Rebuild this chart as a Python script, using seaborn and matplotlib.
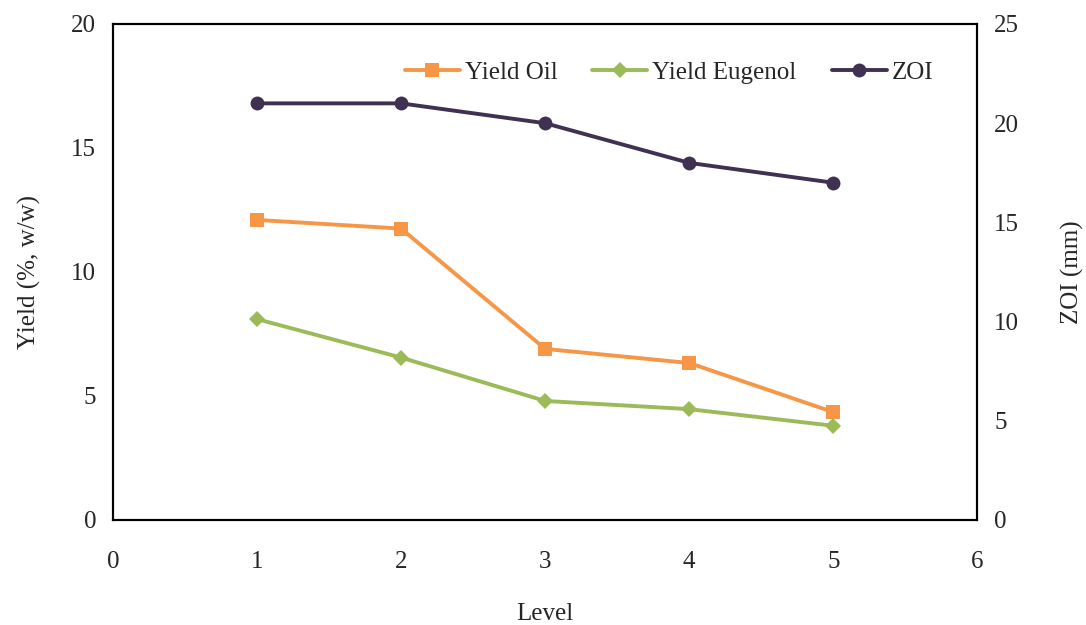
import numpy as np
import matplotlib.pyplot as plt
import pandas as pd
import seaborn as sns

# datos
level = [1, 2, 3, 4, 5]
yield_oil = [12.1, 11.75, 6.9, 6.33, 4.35]
yield_eugenol = [8.1, 6.55, 4.8, 4.47, 3.8]
zoi = [21, 21, 20, 18, 17]

df = pd.DataFrame({"level": level, "oil": yield_oil,
                   "eugenol": yield_eugenol, "zoi": zoi})

sns.set_style("white")
plt.rcParams['font.family'] = ['Liberation Serif', 'DejaVu Serif']

fig = plt.figure(figsize=(10.86, 6.25), dpi=100)
ax = fig.add_axes([0.104, 0.168, 0.796, 0.7936])
ax2 = ax.twinx()

sns.lineplot(x="level", y="oil", data=df, ax=ax, color="#F79646",
             marker="s", markersize=10, markeredgewidth=0, linewidth=2.8,
             label="Yield Oil", legend=False)
sns.lineplot(x="level", y="eugenol", data=df, ax=ax, color="#9BBB59",
             marker="D", markersize=8, markeredgewidth=0, linewidth=2.8,
             label="Yield Eugenol", legend=False)
sns.lineplot(x="level", y="zoi", data=df, ax=ax2, color="#403152",
             marker="o", markersize=10, markeredgewidth=0, linewidth=2.8,
             label="ZOI", legend=False)

ax.set_xlim(0, 6)
ax.set_ylim(0, 20)
ax2.set_ylim(0, 25)
ax.set_xticks(range(0, 7))
ax.set_yticks(range(0, 21, 5))
ax2.set_yticks(range(0, 26, 5))

for a in (ax, ax2):
    a.tick_params(length=0, labelsize=18, pad=12)
    for s in a.spines.values():
        s.set_color("black")
        s.set_linewidth(1.5)
ax.tick_params(axis="x", pad=22)

ax.set_xlabel("Level", fontsize=18, labelpad=22)
ax.set_ylabel("Yield (%, w/w)", fontsize=18, labelpad=22)
ax2.set_ylabel("ZOI (mm)", fontsize=18, labelpad=30)

h1, l1 = ax.get_legend_handles_labels()
h2, l2 = ax2.get_legend_handles_labels()
ax.legend(h1 + h2, l1 + l2, ncol=3, frameon=False, fontsize=18,
          loc="upper right", bbox_to_anchor=(0.975, 0.97),
          handlelength=2.2, handletextpad=0.2, columnspacing=1.4)

fig.savefig("out.png", dpi=100)
